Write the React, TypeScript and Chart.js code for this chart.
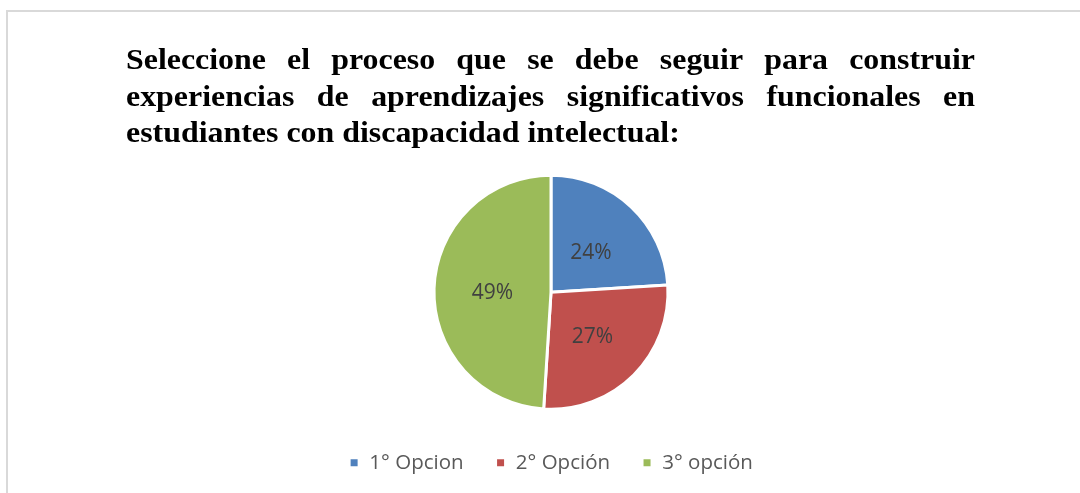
import React, { useEffect, useRef } from "react";
import { Chart, registerables } from "chart.js";

Chart.register(...registerables);

const titleLines = [
  "Seleccione el proceso que se debe seguir para construir",
  "experiencias de aprendizajes significativos funcionales en",
  "estudiantes con discapacidad intelectual:",
];
const categories = ["1° Opcion", "2° Opción", "3° opción"];
const values = [24, 27, 49];
const colors = ["#4f81bd", "#c0504d", "#9bbb59"];

const justifiedTitle = {
  id: "justifiedTitle",
  afterDraw(chart: any) {
    const ctx = chart.ctx;
    const sx = 1.1;
    const left = 126;
    const right = 975;
    const width = (right - left) / sx;
    ctx.save();
    ctx.translate(left, 0);
    ctx.scale(sx, 1);
    ctx.font = "bold 29px 'Liberation Serif', 'Times New Roman', serif";
    ctx.fillStyle = "#000000";
    ctx.textBaseline = "alphabetic";
    ctx.textAlign = "left";
    titleLines.forEach((line, i) => {
      const y = 69 + i * 36.5;
      const words = line.split(" ");
      if (i === titleLines.length - 1) {
        ctx.fillText(line, 0, y);
        return;
      }
      const total = words.reduce((s, w) => s + ctx.measureText(w).width, 0);
      const gap = (width - total) / (words.length - 1);
      let x = 0;
      words.forEach((w) => {
        ctx.fillText(w, x, y);
        x += ctx.measureText(w).width + gap;
      });
    });
    ctx.restore();
  },
};

const sliceLabels = {
  id: "sliceLabels",
  afterDatasetsDraw(chart: any) {
    const ctx = chart.ctx;
    const meta = chart.getDatasetMeta(0);
    ctx.save();
    ctx.font = "21px 'Open Sans', 'Liberation Sans', sans-serif";
    ctx.fillStyle = "#404040";
    ctx.textAlign = "center";
    ctx.textBaseline = "middle";
    meta.data.forEach((arc: any, i: number) => {
      const { startAngle, endAngle, outerRadius, x, y } = arc.getProps(
        ["startAngle", "endAngle", "outerRadius", "x", "y"],
        true
      );
      const mid = (startAngle + endAngle) / 2;
      const r = outerRadius * 0.5;
      ctx.fillText(values[i] + "%", x + Math.cos(mid) * r, y + Math.sin(mid) * r + 3);
    });
    ctx.restore();
  },
};

export default function App() {
  const ref = useRef<HTMLCanvasElement | null>(null);
  useEffect(() => {
    if (!ref.current) return;
    const chart = new Chart(ref.current, {
      type: "pie",
      data: {
        labels: categories,
        datasets: [
          {
            data: values,
            backgroundColor: colors,
            borderColor: "#ffffff",
            borderWidth: 3,
            radius: 117,
          },
        ],
      },
      options: {
        animation: false,
        responsive: false,
        maintainAspectRatio: false,
        layout: { padding: { top: 164, bottom: 10, left: 22 } },
        plugins: {
          title: { display: false },
          tooltip: { enabled: false },
          legend: {
            display: true,
            position: "bottom",
            labels: {
              boxWidth: 10,
              boxHeight: 10,
              padding: 32,
              color: "#595959",
              font: { size: 20.5, family: "'Open Sans', 'Liberation Sans', sans-serif" },
            },
          },
        },
      },
      plugins: [justifiedTitle, sliceLabels],
    });
    return () => chart.destroy();
  }, []);
  return (
    <div style={{ position: "absolute", left: 0, top: 0, width: 1080, height: 493, background: "#fff", overflow: "hidden" }}>
      <div
        style={{
          position: "absolute",
          left: 6,
          top: 10,
          width: 1200,
          height: 600,
          borderTop: "2px solid #d9d9d9",
          borderLeft: "2px solid #d9d9d9",
        }}
      />
      <canvas ref={ref} width={1080} height={493} style={{ position: "absolute", left: 0, top: 0 }} />
    </div>
  );
}
